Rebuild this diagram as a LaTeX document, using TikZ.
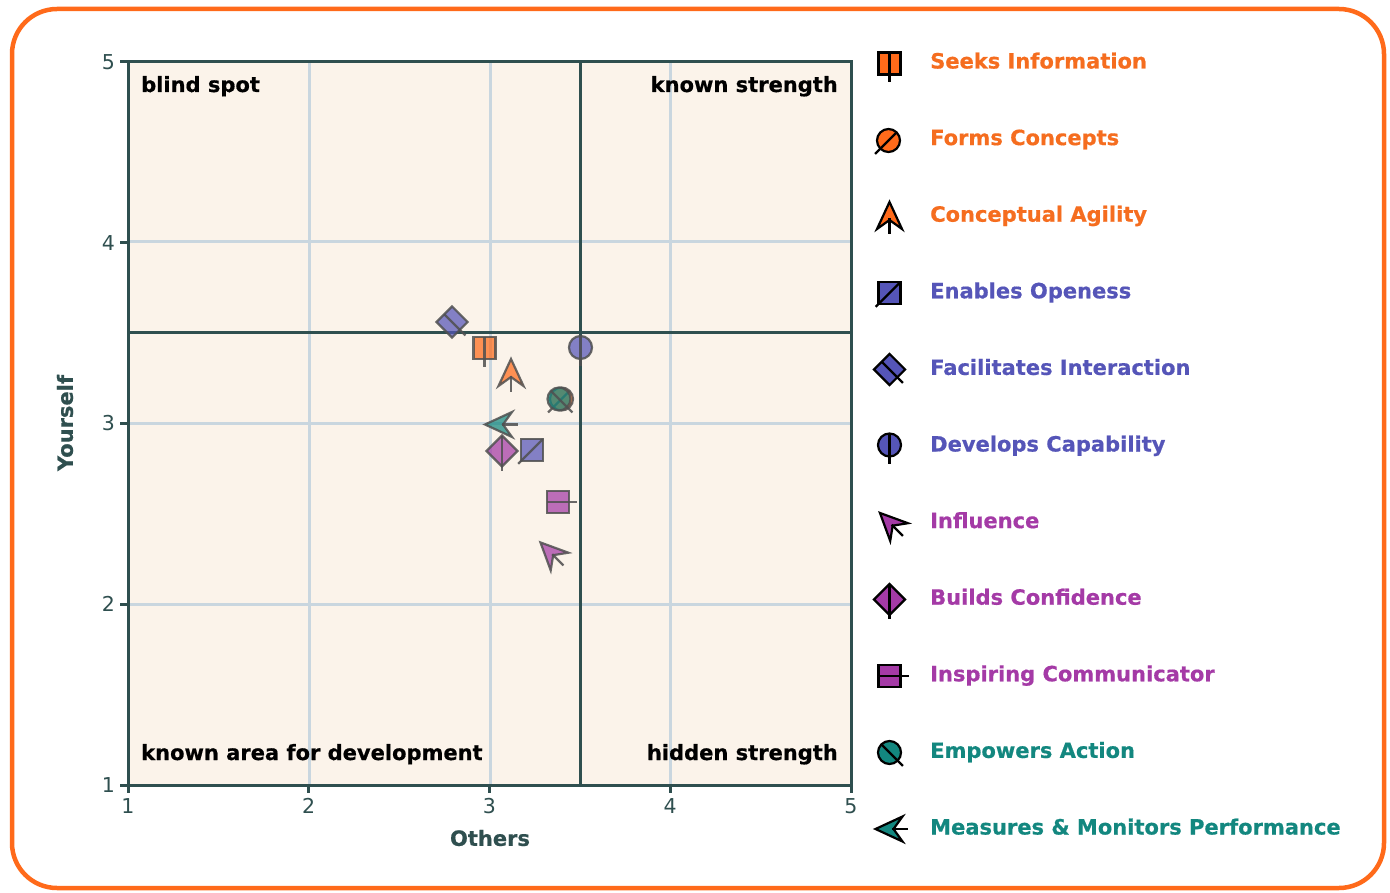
\documentclass[tikz,border=0pt]{standalone}
\usepackage{fontspec}
\setmainfont{DejaVu Sans}[BoldFeatures={FakeBold=0.6}]
\definecolor{orng}{HTML}{FF6A1A}
\definecolor{orngtxt}{HTML}{F56D1F}
\definecolor{blu}{HTML}{5555B8}
\definecolor{pur}{HTML}{A43AA6}
\definecolor{teal}{HTML}{13877F}
\definecolor{slate}{HTML}{2F4F4F}
\definecolor{gridc}{HTML}{C9D6DF}
\definecolor{bgc}{HTML}{FBF3EA}
\definecolor{mkgray}{HTML}{505050}
\tikzset{
  frame/.style={draw=slate, line width=3pt},
  gridl/.style={draw=gridc, line width=3pt},
  qlabel/.style={font=\fontsize{21}{25}\selectfont\bfseries, text=black, inner sep=0pt},
  ticklab/.style={font=\fontsize{20.5}{24}\selectfont, text=slate, inner sep=0pt},
  axlab/.style={font=\fontsize{21}{25}\selectfont\bfseries, text=slate, inner sep=0pt},
  legtext/.style={font=\fontsize{21}{25}\selectfont\bfseries, inner sep=0pt, anchor=base west},
  plotmk/.style={draw=mkgray, draw opacity=0.85, fill opacity=0.72, line width=2.2pt},
  legmk/.style={draw=black, line width=2.2pt},
  sqmk/.pic={
    \path[pic actions] (-11,-11) rectangle (11,11);
    \path[pic actions] (0,-11) -- (0,19);
  },
  diamk/.pic={
    \path[pic actions] (0,-15.5) -- (15.5,0) -- (0,15.5) -- (-15.5,0) -- cycle;
    \path[pic actions] (0,-15.5) -- (0,19.5);
  },
  circmk/.pic={
    \path[pic actions] (0,0) circle (11.5);
    \path[pic actions] (0,-11.5) -- (0,19);
  },
  arrmk/.pic={
    \path[pic actions] (0,-13.5) -- (12.5,13.5) -- (0,4.5) -- (-12.5,13.5) -- cycle;
    \path[pic actions] (0,3) -- (0,19);
  }
}
\begin{document}
\begin{tikzpicture}[x=1pt,y=-1pt]
\useasboundingbox (0,0) rectangle (1390,893);
% outer border
\draw[draw=orng, line width=4.5pt, rounded corners=45pt] (12,9) rectangle (1384,888);
% plot background
\fill[bgc] (128,62) rectangle (851,785);
% grid
\foreach \gx in {309,490,670} \draw[gridl] (\gx,62) -- (\gx,785);
\foreach \gy in {242,423,604} \draw[gridl] (128,\gy) -- (851,\gy);
% quadrant lines
\coordinate (qt) at (580,62); \coordinate (qb) at (580,785);
\coordinate (ql) at (128,333); \coordinate (qr) at (851,333);
\draw[frame] (qt) -- (qb);
\draw[frame] (ql) -- (qr);
% frame
\draw[frame] (128,62) rectangle (851,785);
% ticks
\foreach \gy/\lab in {62/5,242.75/4,423.5/3,604.25/2,785/1}{
  \draw[frame] (120,\gy) -- (128,\gy);
  \node[ticklab, anchor=east] at (115,\gy) {\lab};
}
\foreach \gx/\lab in {128/1,308.75/2,489.5/3,670.25/4,851/5}{
  \draw[frame] (\gx,785) -- (\gx,793);
  \node[ticklab, anchor=north] at (\gx,798) {\lab};
}
% axis labels
\node[axlab] (xlab) at (490,838) {Others};
\node[axlab, rotate=90] (ylab) at (65,423) {Yourself};
% quadrant labels
\node[qlabel, anchor=base west] (q1) at (141,92) {blind spot};
\node[qlabel, anchor=base east] (q2) at (838,92) {known strength};
\node[qlabel, anchor=base west] (q3) at (141,760) {known area for development};
\node[qlabel, anchor=base east] (q4) at (838,760) {hidden strength};
% data markers
\pic[plotmk, fill=orng] at (484.5,348) {sqmk};
\pic[plotmk, fill=orng, rotate=-45] at (561.5,399) {circmk};
\pic[plotmk, fill=orng] at (511,372.5) {arrmk};
\pic[plotmk, fill=blu, rotate=-45] at (532,450) {diamk};
\pic[plotmk, fill=blu, rotate=45] at (452,322) {sqmk};
\pic[plotmk, fill=blu] at (580.5,347.5) {circmk};
\pic[plotmk, fill=pur, rotate=45] at (550,552) {arrmk};
\pic[plotmk, fill=pur] at (502,451) {diamk};
\pic[plotmk, fill=pur, rotate=90] at (558,502) {sqmk};
\pic[plotmk, fill=teal, rotate=45] at (559,399) {circmk};
\pic[plotmk, fill=teal, rotate=90] at (498.5,424.5) {arrmk};
% legend markers
\pic[legmk, fill=orng] at (889.5,63.5) {sqmk};
\pic[legmk, fill=orng, rotate=-45] at (888.5,140.5) {circmk};
\pic[legmk, fill=orng] at (889.5,215.5) {arrmk};
\pic[legmk, fill=blu, rotate=-45] at (889.5,293) {diamk};
\pic[legmk, fill=blu, rotate=45] at (889.5,369.5) {sqmk};
\pic[legmk, fill=blu] at (889.5,445) {circmk};
\pic[legmk, fill=pur, rotate=45] at (889.5,522.5) {arrmk};
\pic[legmk, fill=pur] at (889.5,599.5) {diamk};
\pic[legmk, fill=pur, rotate=90] at (889.5,676) {sqmk};
\pic[legmk, fill=teal, rotate=45] at (889.5,752.5) {circmk};
\pic[legmk, fill=teal, rotate=90] at (889,829) {arrmk};
% legend text
\node[legtext, text=orngtxt] (l1) at (930,68.5) {Seeks Information};
\node[legtext, text=orngtxt] (l2) at (930,145.1) {Forms Concepts};
\node[legtext, text=orngtxt] (l3) at (930,221.7) {Conceptual Agility};
\node[legtext, text=blu] (l4) at (930,298.3) {Enables Openess};
\node[legtext, text=blu] (l5) at (930,374.9) {Facilitates Interaction};
\node[legtext, text=blu] (l6) at (930,451.5) {Develops Capability};
\node[legtext, text=pur] (l7) at (930,528.1) {Influence};
\node[legtext, text=pur] (l8) at (930,604.7) {Builds Confidence};
\node[legtext, text=pur] (l9) at (930,681.3) {Inspiring Communicator};
\node[legtext, text=teal] (l10) at (930,757.9) {Empowers Action};
\node[legtext, text=teal] (l11) at (930,834.5) {Measures \& Monitors Performance};
\end{tikzpicture}
\end{document}
